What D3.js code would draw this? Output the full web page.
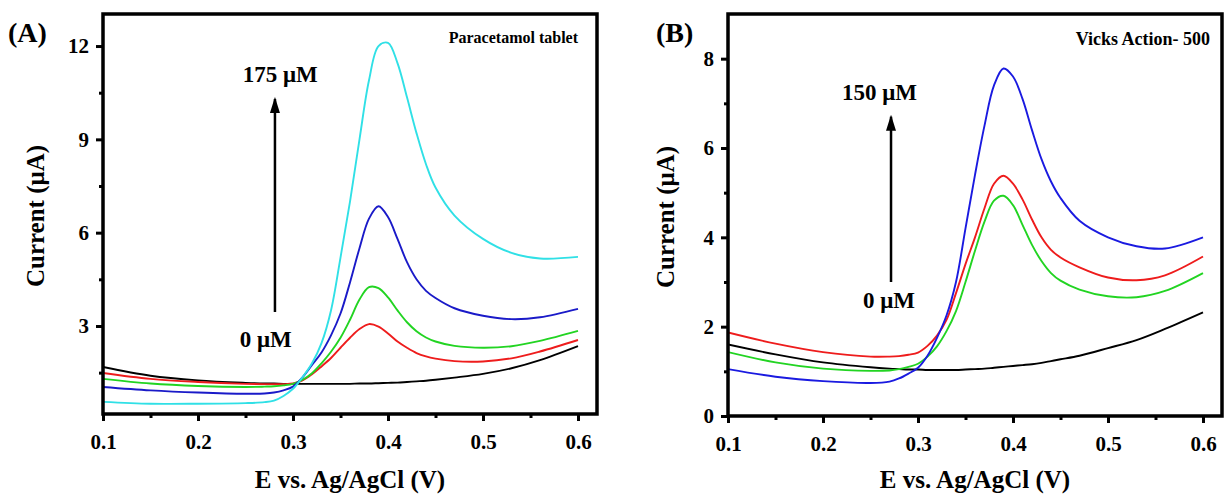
<!DOCTYPE html>
<html lang="en">
	<head>
		<meta charset="utf-8">
		<title>DPV paracetamol tablets</title>
		<script src="https://cdn.jsdelivr.net/npm/d3@7"></script>
		<style type="text/css">
			body { margin: 0; background: white; }
			text { font-family: "Liberation Serif", "Times New Roman", serif; font-weight: bold; }
		</style>
	</head>
	<body>

		<script type="text/javascript" charset="utf-8">

		//data - potential grid (V) shared by every curve
		var potential = [0.1,0.15,0.2,0.25,0.27,0.28,0.29,0.3,0.31,0.32,0.33,0.34,0.35,0.36,0.37,0.38,0.39,0.4,0.41,0.42,0.43,0.44,0.45,0.47,0.5,0.53,0.56,0.6]

		// (A) paracetamol tablet, current in uA
		var paraBlack = [1.68,1.4,1.25,1.17,1.15,1.15,1.14,1.14,1.14,1.14,1.14,1.14,1.14,1.14,1.15,1.15,1.16,1.17,1.18,1.2,1.22,1.24,1.27,1.34,1.46,1.64,1.9,2.35]
		var paraRed   = [1.49,1.3,1.2,1.14,1.13,1.13,1.13,1.15,1.25,1.45,1.7,1.97,2.3,2.62,2.9,3.06,2.98,2.76,2.5,2.3,2.13,2.02,1.95,1.87,1.86,1.96,2.18,2.55]
		var paraGreen = [1.3,1.15,1.07,1.04,1.05,1.06,1.09,1.14,1.27,1.48,1.8,2.17,2.62,3.2,3.85,4.25,4.22,3.92,3.5,3.12,2.83,2.63,2.5,2.36,2.3,2.35,2.52,2.84]
		var paraBlue  = [1.04,0.93,0.86,0.82,0.83,0.86,0.93,1.05,1.35,1.75,2.15,2.7,3.4,4.4,5.5,6.45,6.85,6.5,5.8,5.05,4.5,4.13,3.9,3.57,3.33,3.22,3.28,3.55]
		var paraCyan  = [0.56,0.5,0.5,0.52,0.55,0.6,0.75,0.98,1.35,1.8,2.45,3.5,5.2,7.0,9.0,10.9,12.0,12.1,11.45,10.35,9.2,8.2,7.45,6.55,5.8,5.35,5.17,5.22]

		// (B) Vicks Action-500, current in uA
		var vicksBlack = [1.6,1.38,1.2,1.09,1.06,1.05,1.04,1.04,1.03,1.03,1.03,1.03,1.04,1.05,1.06,1.08,1.1,1.12,1.14,1.16,1.19,1.23,1.27,1.35,1.52,1.7,1.95,2.32]
		var vicksRed   = [1.87,1.62,1.43,1.33,1.33,1.34,1.37,1.42,1.57,1.8,2.15,2.75,3.4,4.0,4.65,5.2,5.38,5.2,4.85,4.4,4.0,3.72,3.55,3.33,3.1,3.04,3.15,3.57]
		var vicksGreen = [1.43,1.2,1.06,1.01,1.02,1.05,1.1,1.17,1.33,1.56,1.9,2.35,3.0,3.7,4.35,4.82,4.93,4.72,4.28,3.83,3.47,3.2,3.03,2.83,2.68,2.66,2.8,3.2]
		var vicksBlue  = [1.05,0.88,0.78,0.74,0.77,0.84,0.95,1.08,1.35,1.75,2.25,3.0,4.2,5.4,6.5,7.4,7.78,7.6,7.1,6.4,5.75,5.25,4.88,4.37,4.0,3.8,3.75,4.0]

		// ticks
		var xTicks = [0.1,0.2,0.3,0.4,0.5,0.6]
		var xMinor = [0.15,0.25,0.35,0.45,0.55]
		var yTicksA = [3,6,9,12]
		var yMinorA = [1.5,4.5,7.5,10.5]
		var yTicksB = [0,2,4,6,8]
		var yMinorB = [1,3,5,7]

		var canvas = d3.select("body").append('svg').attr('width',1225).attr('height',494)

		// arrow head, drawn pointing along +x so orient=auto turns it with the line
		canvas.append('defs').append('marker')
			.attr('id','head')
			.attr('viewBox','0 0 16 10')
			.attr('refX',14)
			.attr('refY',5)
			.attr('markerWidth',16)
			.attr('markerHeight',10)
			.attr('markerUnits','userSpaceOnUse')
			.attr('orient','auto')
			.append('path')
			.attr('d','M0,0 L16,5 L0,10 Z')
			.attr('fill','black')

		//////////////////////////////////////////////////////////////////////////
		//////////////////////// ONE FUNCTION PER PANEL //////////////////////////
		//////////////////////////////////////////////////////////////////////////
		function panel(p) {
			var g = canvas.append('g')
			var x = d3.scaleLinear().domain([0.1,0.62]).range([p.left,p.right])
			var y = d3.scaleLinear().domain(p.yDomain).range([p.bottom,p.top])

			g.append('clipPath').attr('id','clip'+p.id)
				.append('rect')
				.attr('x',p.left).attr('y',p.top)
				.attr('width',p.right-p.left).attr('height',p.bottom-p.top)

			var line = d3.line()
				.x(function(d,i) {return x(potential[i])})
				.y(function(d) {return y(d)})
				.curve(d3.curveCatmullRom.alpha(0.5))

			g.selectAll('path.curve').data(p.series).enter().append('path')
				.attr('class','curve')
				.attr('d',function(d) {return line(d.values)})
				.attr('fill','none')
				.attr('stroke',function(d) {return d.color})
				.attr('stroke-width',1.9)
				.attr('clip-path','url(#clip'+p.id+')')

			// axes, major then minor ticks
			var xAxis = g.append('g').attr('transform','translate(0,'+p.bottom+')')
				.call(d3.axisBottom(x).tickValues(xTicks).tickSize(7).tickPadding(13).tickFormat(d3.format('.1f')))
			var xAxisMinor = g.append('g').attr('transform','translate(0,'+p.bottom+')')
				.call(d3.axisBottom(x).tickValues(xMinor).tickSize(4).tickFormat(''))
			var yAxis = g.append('g').attr('transform','translate('+p.left+',0)')
				.call(d3.axisLeft(y).tickValues(p.yTicks).tickSize(7).tickPadding(7))
			var yAxisMinor = g.append('g').attr('transform','translate('+p.left+',0)')
				.call(d3.axisLeft(y).tickValues(p.yMinor).tickSize(4).tickFormat(''))

			;[xAxis,xAxisMinor,yAxis,yAxisMinor].forEach(function(a) {
				a.select('.domain').remove()
				a.selectAll('line').attr('stroke','black').attr('stroke-width',3)
				a.selectAll('text').attr('font-size',21).attr('fill','black')
					.attr('font-family','"Liberation Serif", serif').attr('font-weight','bold')
			})

			// frame
			g.append('rect')
				.attr('x',p.left).attr('y',p.top)
				.attr('width',p.right-p.left).attr('height',p.bottom-p.top)
				.attr('fill','none').attr('stroke','black').attr('stroke-width',3.5)

			// titles
			g.append('text')
				.attr('x',(p.left+p.right)/2).attr('y',488)
				.attr('text-anchor','middle').attr('font-size',25)
				.text('E vs. Ag/AgCl (V)')

			g.append('text')
				.attr('transform','translate('+p.yTitleX+','+((p.top+p.bottom)/2+2)+') rotate(-90)')
				.attr('text-anchor','middle').attr('font-size',25)
				.text('Current (\u03bcA)')

			g.append('text')
				.attr('x',p.tagX).attr('y',42)
				.attr('font-size',28)
				.text(p.tag)

			g.append('text')
				.attr('x',x(p.nameAt[0])).attr('y',y(p.nameAt[1]))
				.attr('text-anchor','end').attr('font-size',p.nameSize)
				.text(p.name)

			// concentration arrow
			g.append('line')
				.attr('x1',x(p.arrow[0])).attr('y1',y(p.arrow[1]))
				.attr('x2',x(p.arrow[0])).attr('y2',y(p.arrow[2]))
				.attr('stroke','black').attr('stroke-width',2.5)
				.attr('marker-end','url(#head)')

			g.append('text')
				.attr('x',x(p.high[0])).attr('y',y(p.high[1]))
				.attr('font-size',23)
				.text(p.high[2])

			g.append('text')
				.attr('x',x(p.low[0])).attr('y',y(p.low[1]))
				.attr('font-size',23)
				.text('0 \u03bcM')
		}

		panel({
			id:'A', left:103, right:597, top:14, bottom:414,
			yDomain:[0.17,13.03], yTicks:yTicksA, yMinor:yMinorA,
			yTitleX:44, tag:'(A)', tagX:8,
			name:'Paracetamol tablet', nameAt:[0.6,12.1], nameSize:16,
			arrow:[0.281,3.45,10.3], high:[0.247,10.84,'175 \u03bcM'], low:[0.244,2.32],
			series:[
				{color:'#000000', values:paraBlack},
				{color:'#ee1c1c', values:paraRed},
				{color:'#22d422', values:paraGreen},
				{color:'#1a1ac8', values:paraBlue},
				{color:'#30e0e6', values:paraCyan}
			]
		})

		panel({
			id:'B', left:728, right:1222, top:14, bottom:416,
			yDomain:[0,9], yTicks:yTicksB, yMinor:yMinorB,
			yTitleX:674, tag:'(B)', tagX:656,
			name:'Vicks Action- 500', nameAt:[0.6074,8.3], nameSize:18,
			arrow:[0.2716,3.0,6.7], high:[0.22,7.07,'150 \u03bcM'], low:[0.2421,2.42],
			series:[
				{color:'#000000', values:vicksBlack},
				{color:'#ee1c1c', values:vicksRed},
				{color:'#22d422', values:vicksGreen},
				{color:'#1a1ae0', values:vicksBlue}
			]
		})

		</script>
	</body>
</html>
